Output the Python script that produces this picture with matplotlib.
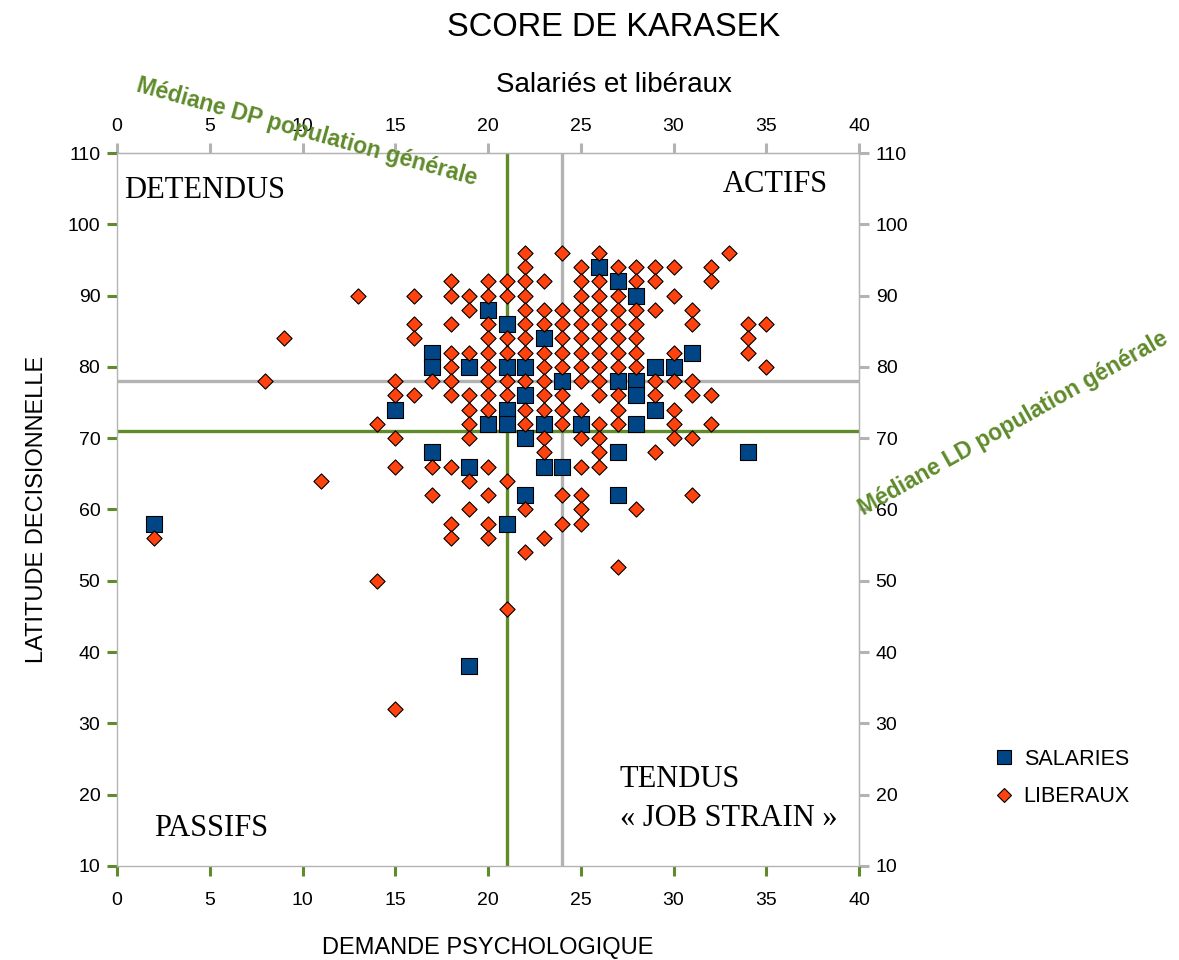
import matplotlib
matplotlib.use("Agg")
import matplotlib.pyplot as plt
from matplotlib.lines import Line2D

plt.rcParams['font.family'] = ['Liberation Sans', 'DejaVu Sans']

# SALARIES (squares)
sal_x = [2, 15, 17, 17, 17, 19, 19, 19, 20, 20, 21, 21, 21, 21, 21, 22, 22, 22, 22,
         23, 23, 23, 24, 24, 25, 26, 27, 27, 27, 27, 28, 28, 28, 28, 29, 29, 30, 31, 34]
sal_y = [58, 74, 82, 80, 68, 80, 66, 38, 88, 72, 86, 80, 74, 72, 58, 80, 76, 70, 62,
         84, 72, 66, 78, 66, 72, 94, 92, 78, 68, 62, 90, 78, 76, 72, 80, 74, 80, 82, 68]

# LIBERAUX (diamonds)
lib_x = [2, 8, 9, 11, 13, 14, 14, 15,
         15, 15, 15, 15,
         16, 16, 16, 16,
         17, 17, 17,
         18, 18, 18, 18, 18, 18, 18, 18, 18, 18,
         19, 19, 19, 19, 19, 19, 19, 19, 19,
         20, 20, 20, 20, 20, 20, 20, 20, 20, 20, 20, 20, 20,
         21, 21, 21, 21, 21, 21, 21, 21,
         22, 22, 22, 22, 22, 22, 22, 22, 22, 22, 22, 22, 22,
         23, 23, 23, 23, 23, 23, 23, 23, 23, 23, 23,
         24, 24, 24, 24, 24, 24, 24, 24, 24, 24, 24,
         25, 25, 25, 25, 25, 25, 25, 25, 25, 25, 25, 25, 25, 25, 25,
         26, 26, 26, 26, 26, 26, 26, 26, 26, 26, 26, 26, 26, 26,
         27, 27, 27, 27, 27, 27, 27, 27, 27, 27, 27,
         28, 28, 28, 28, 28, 28, 28, 28,
         29, 29, 29, 29, 29, 29,
         30, 30, 30, 30, 30, 30, 30,
         31, 31, 31, 31, 31, 31,
         32, 32, 32, 32,
         33, 34, 34, 34, 35, 35]
lib_y = [56, 78, 84, 64, 90, 72, 50, 32,
         78, 76, 70, 66,
         90, 86, 84, 76,
         78, 66, 62,
         92, 90, 86, 82, 80, 78, 76, 66, 58, 56,
         90, 88, 82, 76, 74, 72, 70, 64, 60,
         92, 90, 86, 84, 82, 80, 78, 76, 74, 66, 62, 58, 56,
         92, 90, 84, 82, 78, 76, 64, 46,
         96, 94, 92, 90, 88, 86, 84, 82, 78, 74, 72, 60, 54,
         92, 88, 86, 82, 80, 78, 76, 74, 70, 68, 56,
         96, 88, 86, 84, 82, 80, 76, 74, 72, 62, 58,
         94, 92, 90, 88, 86, 84, 82, 80, 78, 74, 70, 66, 62, 60, 58,
         96, 92, 90, 88, 86, 84, 82, 80, 78, 76, 72, 70, 68, 66,
         94, 90, 88, 86, 84, 82, 80, 76, 74, 72, 52,
         94, 92, 88, 86, 84, 82, 80, 60,
         94, 92, 88, 78, 76, 68,
         94, 90, 82, 78, 74, 72, 70,
         88, 86, 78, 76, 70, 62,
         94, 92, 76, 72,
         96, 86, 84, 82, 86, 80]

med_dp = 21   # mediane DP population generale
med_ld = 71   # mediane LD population generale
ref_dp = 24
ref_ld = 78

green = '#5f8b2b'
grey = '#b3b3b3'
blue = '#004586'
orange = '#ff420e'

W, H = 1179, 960
fig = plt.figure(figsize=(W / 100, H / 100), dpi=100)
ax = fig.add_axes([117 / W, 1 - 866 / H, (859 - 117) / W, (866 - 153) / H])

ax.set_xlim(0, 40)
ax.set_ylim(10, 110)
ax.set_xticks(range(0, 41, 5))
ax.set_yticks(range(10, 111, 10))
ax.tick_params(direction='out', length=7, width=2.2, color=green, labelsize=14)
ax.tick_params(axis='x', pad=12)
ax.tick_params(axis='y', pad=5)
for s in ax.spines.values():
    s.set_color(grey)
    s.set_linewidth(1)

top = ax.secondary_xaxis('top')
top.set_xticks(range(0, 41, 5))
top.tick_params(direction='out', length=7, width=2.2, color=grey, labelsize=14, pad=6)
top.spines['top'].set_color(grey)
right = ax.secondary_yaxis('right')
right.set_yticks(range(10, 111, 10))
right.tick_params(direction='out', length=7, width=2.2, color=grey, labelsize=14, pad=5)
right.spines['right'].set_color(grey)

# median / reference lines
ax.axvline(ref_dp, color=grey, lw=2.4, zorder=1)
ax.axhline(ref_ld, color=grey, lw=2.4, zorder=1)
ax.axvline(med_dp, color=green, lw=2.4, zorder=1.5)
ax.axhline(med_ld, color=green, lw=2.4, zorder=1.5)

ax.scatter(sal_x, sal_y, marker='s', s=118, c=blue, edgecolors='black', linewidths=0.8, zorder=3)
ax.scatter(lib_x, lib_y, marker='D', s=60, c=orange, edgecolors='black', linewidths=0.8, zorder=4)

ax.set_xlabel('DEMANDE PSYCHOLOGIQUE', fontsize=17, labelpad=20)
ax.set_ylabel('LATITUDE DECISIONNELLE', fontsize=17, labelpad=14)

fig.text(614 / W, 1 - 28 / H, 'SCORE DE KARASEK', fontsize=23.5, ha='center', va='center')
fig.text(614 / W, 1 - 85 / H, 'Salariés et libéraux', fontsize=20, ha='center', va='center')

serif = ['Liberation Serif', 'DejaVu Serif']
fig.text(124 / W, 1 - 190 / H, 'DETENDUS', fontsize=22, family=serif, ha='left', va='center')
fig.text(775 / W, 1 - 185 / H, 'ACTIFS', fontsize=22, family=serif, ha='center', va='center')
fig.text(211 / W, 1 - 828 / H, 'PASSIFS', fontsize=22, family=serif, ha='center', va='center')
fig.text(620 / W, 1 - 799 / H, 'TENDUS\n« JOB STRAIN »', fontsize=22, family=serif,
         ha='left', va='center', linespacing=1.42)

fig.text(307 / W, 1 - 132 / H, 'Médiane DP population générale', fontsize=16.5, fontweight='bold',
         color=green, rotation=-15.5, ha='center', va='center', rotation_mode='anchor')
fig.text(1013 / W, 1 - 423 / H, 'Médiane LD population générale', fontsize=16.5, fontweight='bold',
         color=green, rotation=29.5, ha='center', va='center', rotation_mode='anchor')

handles = [Line2D([], [], marker='s', ls='none', ms=10.6, mfc=blue, mec='black', mew=0.8),
           Line2D([], [], marker='D', ls='none', ms=7.5, mfc=orange, mec='black', mew=0.8)]
fig.legend(handles, ['SALARIES', 'LIBERAUX'], loc='center left', bbox_to_anchor=(972 / W, 1 - 778 / H),
           frameon=False, fontsize=15.5, handletextpad=0.3, labelspacing=0.75, handlelength=1.2)

fig.savefig('out.png', dpi=100)
